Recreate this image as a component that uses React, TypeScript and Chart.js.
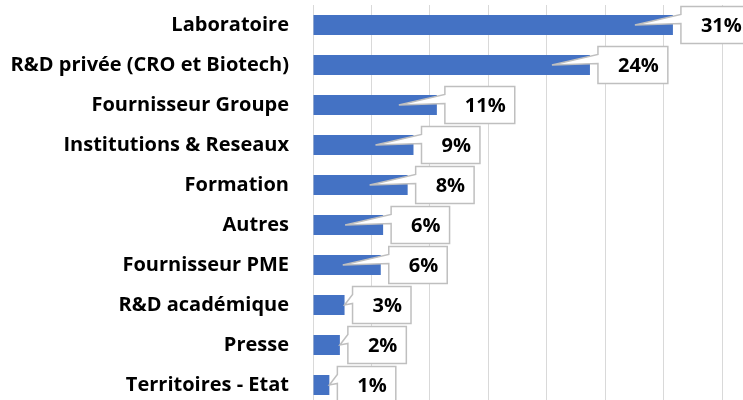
import React, { useEffect, useRef } from "react";
import { Chart, registerables } from "chart.js";

Chart.register(...registerables);

const categories = [
  "Laboratoire",
  "R&D privée (CRO et Biotech)",
  "Fournisseur Groupe",
  "Institutions & Reseaux",
  "Formation",
  "Autres",
  "Fournisseur PME",
  "R&D académique",
  "Presse",
  "Territoires - Etat",
];
const values = [30.8, 23.7, 10.6, 8.6, 8.1, 6.0, 5.8, 2.7, 2.3, 1.4];
const axisMin = 0;
const axisMax = 35;
const axisStep = 5;

const FONT = "'Open Sans', Lato, sans-serif";
const BAR_COLOR = "#4472C4";
const GRID_COLOR = "#d9d9d9";
const CALLOUT_BORDER = "#bfbfbf";

const calloutPlugin = {
  id: "callouts",
  afterDatasetsDraw(chart: any) {
    const ctx = chart.ctx as CanvasRenderingContext2D;
    const meta = chart.getDatasetMeta(0);
    const data = chart.data.datasets[0].data as number[];
    ctx.save();
    ctx.font = `bold 20px ${FONT}`;
    meta.data.forEach((bar: any, i: number) => {
      const text = Math.round(data[i]) + "%";
      const tw = ctx.measureText(text).width;
      const boxW = tw + 29;
      const boxH = 37;
      const boxLeft = bar.x + 8;
      const boxTop = bar.y - 18.5;
      const barLen = bar.x - bar.base;
      const tipX = barLen > 50 ? bar.x - 38 : bar.x;
      const tipY = bar.y;
      ctx.beginPath();
      ctx.moveTo(boxLeft, boxTop);
      ctx.lineTo(boxLeft + boxW, boxTop);
      ctx.lineTo(boxLeft + boxW, boxTop + boxH);
      ctx.lineTo(boxLeft, boxTop + boxH);
      ctx.lineTo(boxLeft, boxTop + 17);
      ctx.lineTo(tipX, tipY);
      ctx.lineTo(boxLeft, boxTop + 8);
      ctx.closePath();
      ctx.fillStyle = "#ffffff";
      ctx.fill();
      ctx.lineWidth = 1.5;
      ctx.strokeStyle = CALLOUT_BORDER;
      ctx.lineJoin = "miter";
      ctx.stroke();
      ctx.fillStyle = "#000000";
      ctx.textAlign = "right";
      ctx.textBaseline = "middle";
      ctx.fillText(text, boxLeft + boxW - 9, bar.y + 1);
    });
    ctx.restore();
  },
};

export default function App() {
  const canvasRef = useRef<HTMLCanvasElement | null>(null);

  useEffect(() => {
    let chart: Chart | null = null;
    let cancelled = false;
    const build = () => {
      if (cancelled || !canvasRef.current) return;
      chart = new Chart(canvasRef.current, {
        type: "bar",
        data: {
          labels: categories,
          datasets: [
            {
              data: values,
              backgroundColor: BAR_COLOR,
              borderWidth: 0,
              barPercentage: 0.5,
              categoryPercentage: 1,
            },
          ],
        },
        options: {
          indexAxis: "y",
          responsive: false,
          maintainAspectRatio: false,
          animation: false,
          layout: { padding: { top: 5, right: 21, bottom: 0, left: 0 } },
          plugins: {
            legend: { display: false },
            tooltip: { enabled: false },
          },
          scales: {
            x: {
              min: axisMin,
              max: axisMax,
              ticks: { display: false, stepSize: axisStep },
              grid: { color: GRID_COLOR, lineWidth: 1, drawTicks: false },
              border: { display: false },
              afterFit: (scale: any) => {
                scale.height = 0;
                scale.paddingLeft = 0;
                scale.paddingRight = 0;
              },
            },
            y: {
              ticks: {
                color: "#000000",
                padding: 24,
                font: { family: FONT, size: 20, weight: "bold" },
              },
              grid: { display: false, drawTicks: false },
              border: { display: false },
              afterFit: (scale: any) => {
                scale.width = 313;
                scale.paddingTop = 0;
                scale.paddingBottom = 0;
              },
            },
          },
        },
        plugins: [calloutPlugin],
      } as any);
    };
    const fontsApi = (document as any).fonts;
    if (fontsApi && fontsApi.load) {
      Promise.all([fontsApi.load(`bold 20px 'Open Sans'`)])
        .catch(() => null)
        .then(build);
    } else {
      build();
    }
    return () => {
      cancelled = true;
      if (chart) chart.destroy();
    };
  }, []);

  return (
    <div
      style={{
        position: "fixed",
        left: 0,
        top: 0,
        width: 743,
        height: 400,
        overflow: "hidden",
        background: "#ffffff",
      }}
    >
      <canvas
        ref={canvasRef}
        width={743}
        height={405}
        style={{ display: "block", width: 743, height: 405 }}
      />
    </div>
  );
}
